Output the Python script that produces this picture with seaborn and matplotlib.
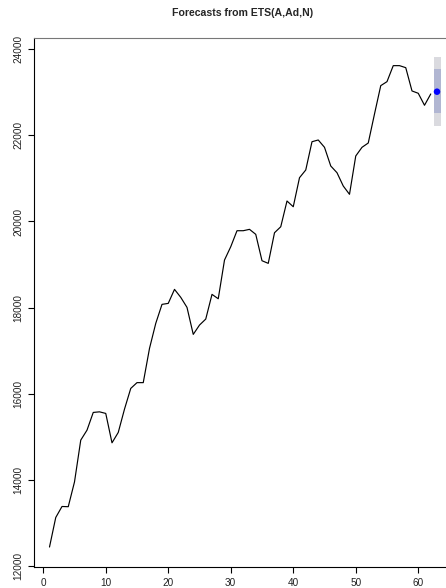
import matplotlib
matplotlib.use("Agg")
import matplotlib.pyplot as plt
import seaborn as sns
import pandas as pd
import numpy as np

# observed series (t = 1..62)
time_idx = list(range(1, 63))
values = [12450, 13135, 13390, 13385, 13960, 14929, 15160, 15571, 15585, 15548,
          14866, 15107, 15648, 16128, 16262, 16262, 17056, 17636, 18077, 18100,
          18425, 18240, 18007, 17381, 17597, 17736, 18309, 18207, 19105, 19414,
          19785, 19785, 19817, 19701, 19089, 19028, 19738, 19877, 20474, 20341,
          21014, 21193, 21849, 21889, 21719, 21286, 21130, 20822, 20629, 21518,
          21719, 21819, 22492, 23149, 23242, 23613, 23613, 23566, 23026, 22972,
          22694, 22956]

# forecast (h = 1)
fc_time = [63]
fc_mean = [23009]
lo80 = [22505]
hi80 = [23536]
lo95 = [22218]
hi95 = [23807]

title = "Forecasts from ETS(A,Ad,N)"
x_ticks = [0, 10, 20, 30, 40, 50, 60]
y_ticks = [12000, 14000, 16000, 18000, 20000, 22000, 24000]

sns.set_style("white")
plt.rcParams['font.family'] = ['Liberation Sans', 'DejaVu Sans']

fig = plt.figure(figsize=(4.46, 5.88), dpi=100)
ax = fig.add_axes([34 / 446, 1 - 566.6 / 588, (452.5 - 34) / 446, (566.6 - 37.7) / 588])

df = pd.DataFrame({"t": time_idx, "y": values})
sns.lineplot(data=df, x="t", y="y", ax=ax, color="black", linewidth=0.85)

for t, l95, h95, l80, h80 in zip(fc_time, lo95, hi95, lo80, hi80):
    ax.fill_between([t - 0.5, t + 0.7], [l95, l95], [h95, h95], color="#DADADF", linewidth=0, zorder=1)
    ax.fill_between([t - 0.5, t + 0.7], [l80, l80], [h80, h80], color="#B1B6D2", linewidth=0, zorder=2)

fc_df = pd.DataFrame({"t": fc_time, "y": fc_mean})
sns.scatterplot(data=fc_df, x="t", y="y", ax=ax, color="#0000FF", s=22, edgecolor="none", zorder=5)

ax.set_xlim(-1.48, 65.48)
ax.set_ylim(11996, 24261)
ax.set_xticks(x_ticks)
ax.set_yticks(y_ticks)
ax.set_xticklabels([str(v) for v in x_ticks])
ax.set_yticklabels([str(v) for v in y_ticks], rotation=90, va="center")
ax.set_xlabel("")
ax.set_ylabel("")
ax.tick_params(axis="both", which="major", length=4, width=0.8, color="black",
               labelsize=7.2, labelcolor="#222222", direction="out",
               bottom=True, left=True)
ax.tick_params(axis="x", pad=4.0)
ax.tick_params(axis="y", pad=3.5)

for side in ["left", "bottom", "top", "right"]:
    ax.spines[side].set_visible(True)
    ax.spines[side].set_color("black")
    ax.spines[side].set_linewidth(0.8)
ax.spines["top"].set_color("#777777")

fig.text(243 / 446, 1 - 13 / 588, title, ha="center", va="center",
         fontsize=7.6, fontweight="bold")

fig.savefig("out.png", dpi=100, facecolor="white")
